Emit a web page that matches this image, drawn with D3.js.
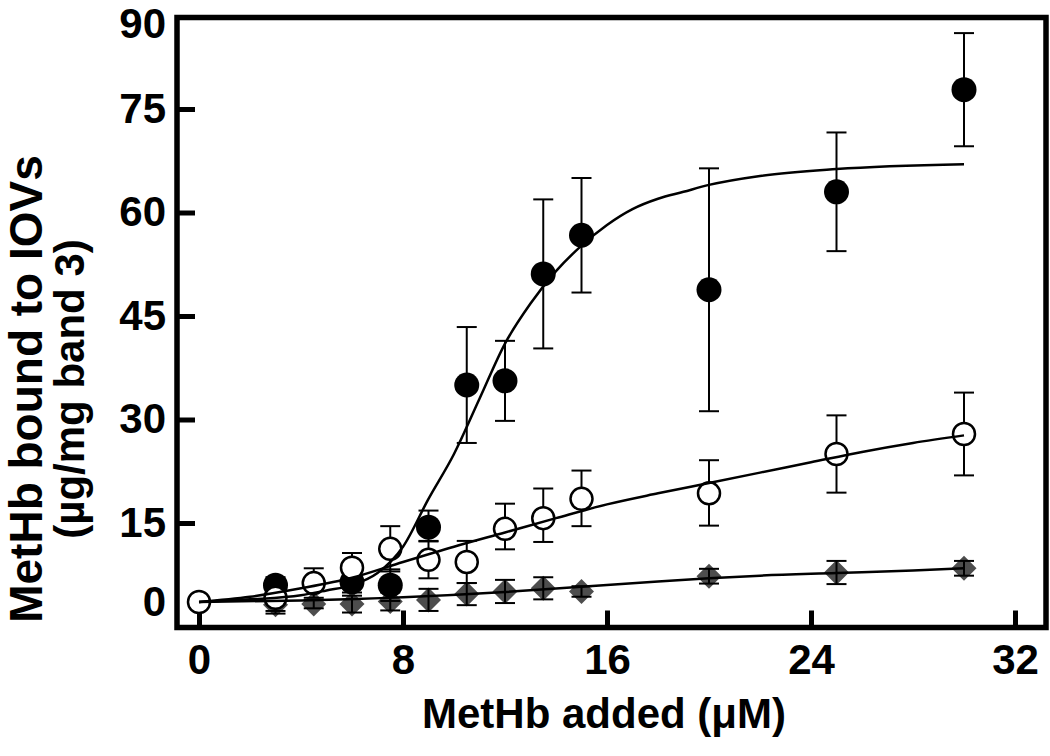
<!DOCTYPE html>
<html>
<head>
<meta charset="utf-8">
<script src="https://cdn.jsdelivr.net/npm/d3@7"></script>
<style>
  html, body { margin: 0; padding: 0; background: #fff; }
  svg { display: block; }
  text { font-family: "Liberation Sans", Arial, sans-serif; font-weight: bold; fill: #000; }
</style>
</head>
<body>
<svg id="chart" width="1050" height="756"></svg>
<script>
// ---- data ----
const xTicks = [0, 8, 16, 24, 32];
const yTicks = [0, 15, 30, 45, 60, 75, 90];

// filled circles
const xFilled = [3, 6, 7.5, 9, 10.5, 12, 13.5, 15, 20, 25, 30];
const yFilled = [3.2, 3.8, 3.2, 14.2, 35.0, 35.6, 51.1, 56.7, 48.8, 63.0, 77.8];
const eFilled = [1.5, 2.0, 3.0, 2.6, 8.4, 5.8, 10.8, 8.3, 17.6, 8.6, 8.2];

// open circles
const xOpen = [0, 3, 4.5, 6, 7.5, 9, 10.5, 12, 13.5, 15, 20, 25, 30];
const yOpen = [0, 0.8, 3.6, 6.5, 10.1, 8.0, 7.6, 13.9, 15.7, 18.5, 19.3, 25.0, 27.9];
const eOpen = [0, 3.0, 2.8, 2.8, 4.3, 3.5, 4.0, 3.9, 4.3, 4.1, 4.8, 5.6, 6.0];

// grey diamonds
const xDia = [3, 4.5, 6, 7.5, 9, 10.5, 12, 13.5, 15, 20, 25, 30];
const yDia = [-0.5, -0.4, -0.4, 0.1, 0.4, 1.5, 2.0, 2.6, 2.0, 4.9, 5.6, 6.4];
const eDia = [1.2, 0.8, 1.6, 1.7, 2.1, 2.1, 2.2, 2.1, 1.0, 1.4, 2.2, 1.4];

// fitted curves
const fitFilledX = [0, 2, 4, 5, 6, 7, 8, 9, 10, 11, 12, 13, 14, 15, 16, 17, 18, 19, 20, 22, 25, 30];
const fitFilledY = [0, 0.5, 1.3, 2.2, 3.2, 5.5, 10.5, 18.5, 25, 33, 41, 46.8, 51.5, 55.2, 58.2, 60.5, 62, 63, 64, 65.3, 66.3, 67.0];
const fitOpenX = [0, 2, 4, 6, 8, 10, 12, 14, 16, 18, 20, 22, 24, 26, 28, 30];
const fitOpenY = [0, 1.0, 2.6, 4.6, 7.6, 10.5, 13.2, 15.7, 17.7, 19.3, 20.8, 22.3, 23.8, 25.3, 26.6, 27.7];
const fitDiaX = [0, 4, 8, 12, 15, 18, 20, 22, 25, 28, 30];
const fitDiaY = [0, 0.3, 0.9, 1.9, 2.9, 3.9, 4.5, 5.0, 5.5, 6.0, 6.4];

// ---- layout ----
const frame = { left: 177, top: 17.5, right: 1046, bottom: 627.5 };
const svg = d3.select("#chart");
const FONT = "Liberation Sans, Arial, sans-serif";

const x = d3.scaleLinear().domain([0, 32]).range([199, 1015]);
// the original's y axis is compressed between 0 and 15
const y = d3.scaleLinear().domain([0, 15, 90]).range([602, 523, 5.5]);

// frame
svg.append("rect")
  .attr("x", frame.left).attr("y", frame.top)
  .attr("width", frame.right - frame.left).attr("height", frame.bottom - frame.top)
  .attr("fill", "none").attr("stroke", "#000").attr("stroke-width", 5.5);

// x axis
const xAxis = svg.append("g")
  .attr("transform", `translate(0,${frame.bottom})`)
  .call(d3.axisBottom(x).tickValues(xTicks).tickSize(-17).tickPadding(17).tickFormat(d3.format("d")));
xAxis.select(".domain").remove();
xAxis.selectAll(".tick line").attr("stroke", "#000").attr("stroke-width", 5);
xAxis.selectAll(".tick text").attr("font-size", 42).attr("font-family", FONT).attr("font-weight", "bold");

// y axis
const yAxis = svg.append("g")
  .attr("transform", `translate(${frame.left},0)`)
  .call(d3.axisLeft(y).tickValues(yTicks).tickSize(-18).tickPadding(11).tickFormat(d3.format("d")));
yAxis.select(".domain").remove();
yAxis.selectAll(".tick line").attr("stroke", "#000").attr("stroke-width", 5)
  .attr("display", d => (d === 0 || d === 90) ? "none" : null);
yAxis.selectAll(".tick text").attr("font-size", 42).attr("font-family", FONT).attr("font-weight", "bold")
  .attr("transform", d => d === 90 ? "translate(0,19)" : null);

// axis titles
svg.append("text")
  .attr("x", 604).attr("y", 728)
  .attr("text-anchor", "middle")
  .attr("font-size", 42)
  .text("MetHb added (\u03BCM)");

const yt = svg.append("g").attr("transform", "translate(0,389) rotate(-90)");
yt.append("text").attr("x", 0).attr("y", 42).attr("text-anchor", "middle").attr("font-size", 46)
  .text("MetHb bound to IOVs");
yt.append("text").attr("x", 0).attr("y", 84).attr("text-anchor", "middle").attr("font-size", 42)
  .text("(\u00B5g/mg band 3)");

// helpers
function zip(xs, ys, es) { return xs.map((v, i) => ({ x: v, y: ys[i], e: es ? es[i] : 0 })); }
const capHalf = 10;

function errorBars(g, data) {
  const eb = g.append("g").attr("stroke", "#000").attr("stroke-width", 2).attr("fill", "none");
  data.filter(d => d.e > 0).forEach(d => {
    const cx = x(d.x), t = y(d.y + d.e), b = y(d.y - d.e);
    eb.append("line").attr("x1", cx).attr("x2", cx).attr("y1", t).attr("y2", b);
    eb.append("line").attr("x1", cx - capHalf).attr("x2", cx + capHalf).attr("y1", t).attr("y2", t);
    eb.append("line").attr("x1", cx - capHalf).attr("x2", cx + capHalf).attr("y1", b).attr("y2", b);
  });
}

const dia = zip(xDia, yDia, eDia);
const filled = zip(xFilled, yFilled, eFilled);
const open = zip(xOpen, yOpen, eOpen);

// diamonds
const gD = svg.append("g");
gD.selectAll("path").data(dia).join("path")
  .attr("d", d => {
    const cx = x(d.x), cy = y(d.y), r = 12.5;
    return `M${cx},${cy - r}L${cx + r},${cy}L${cx},${cy + r}L${cx - r},${cy}Z`;
  })
  .attr("fill", "#4d4d4d");
errorBars(gD, dia);

// filled circles
const gF = svg.append("g");
errorBars(gF, filled);
gF.selectAll("circle").data(filled).join("circle")
  .attr("cx", d => x(d.x)).attr("cy", d => y(d.y)).attr("r", 12.5).attr("fill", "#000");

// open circles
const gO = svg.append("g");
errorBars(gO, open);
gO.selectAll("circle").data(open).join("circle")
  .attr("cx", d => x(d.x)).attr("cy", d => y(d.y)).attr("r", 11)
  .attr("fill", "#fff").attr("stroke", "#000").attr("stroke-width", 2.5);

// fitted curves
const line = d3.line().x(d => x(d.x)).y(d => y(d.y)).curve(d3.curveMonotoneX);
[[fitFilledX, fitFilledY], [fitOpenX, fitOpenY], [fitDiaX, fitDiaY]].forEach(([xs, ys]) => {
  svg.append("path").datum(zip(xs, ys))
    .attr("d", line).attr("fill", "none").attr("stroke", "#000").attr("stroke-width", 2.5);
});
</script>
</body>
</html>
